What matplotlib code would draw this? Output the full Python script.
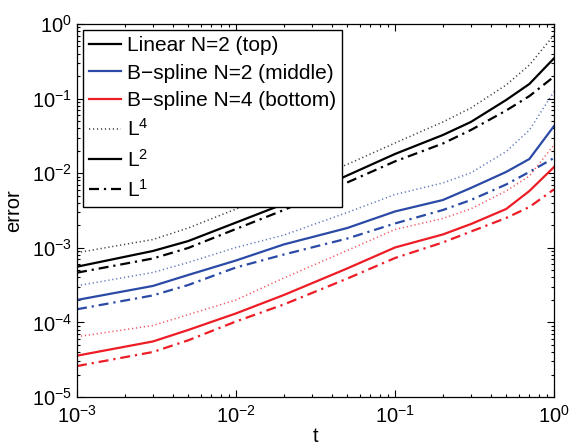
import matplotlib
matplotlib.use("Agg")
import matplotlib.pyplot as plt
import numpy as np

plt.rcParams['font.family'] = ['Liberation Sans', 'DejaVu Sans']
plt.rcParams['mathtext.fontset'] = 'custom'
plt.rcParams['mathtext.rm'] = 'Liberation Sans'
plt.rcParams['mathtext.it'] = 'Liberation Sans:italic'
plt.rcParams['mathtext.bf'] = 'Liberation Sans:bold'

# data
t = [0.001, 0.003, 0.005, 0.01, 0.02, 0.05, 0.1, 0.2, 0.3, 0.5, 0.7, 1.0]

linear_L4 = [8.60e-4, 1.29e-3, 1.84e-3, 3.31e-3, 5.96e-3, 1.31e-2, 2.54e-2, 4.86e-2, 7.48e-2, 0.152, 0.282, 0.713]
linear_L2 = [5.58e-4, 9.06e-4, 1.23e-3, 2.18e-3, 3.87e-3, 9.31e-3, 1.81e-2, 3.25e-2, 4.86e-2, 9.58e-2, 0.157, 0.347]
linear_L1 = [4.64e-4, 7.19e-4, 9.94e-4, 1.79e-3, 3.21e-3, 7.50e-3, 1.44e-2, 2.50e-2, 3.79e-2, 6.92e-2, 0.108, 0.197]

bs2_L4 = [3.10e-4, 4.67e-4, 6.35e-4, 1.01e-3, 1.48e-3, 2.97e-3, 5.18e-3, 7.40e-3, 1.01e-2, 1.95e-2, 3.79e-2, 0.124]
bs2_L2 = [2.00e-4, 3.08e-4, 4.32e-4, 6.76e-4, 1.11e-3, 1.84e-3, 3.07e-3, 4.37e-3, 6.34e-3, 1.04e-2, 1.55e-2, 4.29e-2]
bs2_L1 = [1.50e-4, 2.30e-4, 3.17e-4, 5.45e-4, 8.13e-4, 1.33e-3, 2.12e-3, 3.21e-3, 4.37e-3, 7.06e-3, 1.04e-2, 1.60e-2]

bs4_L4 = [6.43e-5, 9.08e-5, 1.27e-4, 2.00e-4, 3.94e-4, 9.20e-4, 1.76e-3, 2.47e-3, 3.33e-3, 5.77e-3, 9.17e-3, 2.39e-2]
bs4_L2 = [3.58e-5, 5.55e-5, 7.91e-5, 1.32e-4, 2.33e-4, 5.28e-4, 1.01e-3, 1.51e-3, 2.08e-3, 3.31e-3, 5.77e-3, 1.21e-2]
bs4_L1 = [2.60e-5, 4.01e-5, 5.75e-5, 1.03e-4, 1.74e-4, 3.86e-4, 7.30e-4, 1.18e-3, 1.65e-3, 2.51e-3, 3.52e-3, 6.08e-3]

method_labels = ['Linear N=2 (top)', 'B\u2212spline N=2 (middle)', 'B\u2212spline N=4 (bottom)']
norm_labels = ['L$^4$', 'L$^2$', 'L$^1$']

BLACK = '#000000'
BLUE = '#2a4aa6'
RED = '#ee1c25'

dotted = (0, (0.8, 1.8))
dashdot = (0, (4.5, 2.2, 1.0, 2.2))

fig = plt.figure(figsize=(5.69, 4.46), dpi=100)
ax = fig.add_axes([77/569, 1-397/446, (554-77)/569, (397-24)/446])

series = [
    (linear_L4, linear_L2, linear_L1, BLACK),
    (bs2_L4, bs2_L2, bs2_L1, BLUE),
    (bs4_L4, bs4_L2, bs4_L1, RED),
]
for l4, l2, l1, c in series:
    ax.plot(t, l4, color=c, linestyle=dotted, lw=1.1, alpha=0.75)
    ax.plot(t, l2, color=c, linestyle='-', lw=1.6)
    ax.plot(t, l1, color=c, linestyle=dashdot, lw=1.6)

ax.set_xscale('log')
ax.set_yscale('log')
ax.set_xlim(1e-3, 1e0)
ax.set_ylim(1e-5, 1e0)

ax.tick_params(which='both', direction='in', top=True, right=True, labelsize=14.5, width=0.8)
ax.tick_params(which='major', length=5)
ax.tick_params(which='minor', length=2.5)
ax.tick_params(axis='x', pad=6)
for s in ax.spines.values():
    s.set_linewidth(0.9)

ax.set_xlabel('t', fontsize=14.5, labelpad=0)
ax.set_ylabel('error', fontsize=14.5, labelpad=6)

# legend proxies
handles = []
for lab, c in zip(method_labels, [BLACK, BLUE, RED]):
    h, = ax.plot([], [], color=c, lw=1.6, linestyle='-')
    handles.append((h, lab))
for lab, ls, lw, a in zip(norm_labels, [dotted, '-', dashdot], [1.1, 1.6, 1.6], [0.75, 1, 1]):
    h, = ax.plot([], [], color=BLACK, lw=lw, linestyle=ls, alpha=a)
    handles.append((h, lab))

leg = ax.legend([h for h, _ in handles], [l for _, l in handles],
                loc='upper left', bbox_to_anchor=(6/477, 1-6/373),
                borderaxespad=0, fontsize=15.0, frameon=True, fancybox=False,
                framealpha=1, edgecolor='black', handlelength=1.5,
                handletextpad=0.3, labelspacing=0.4, borderpad=0.3)
leg.get_frame().set_linewidth(1.0)

fig.savefig('out.png', dpi=100)
